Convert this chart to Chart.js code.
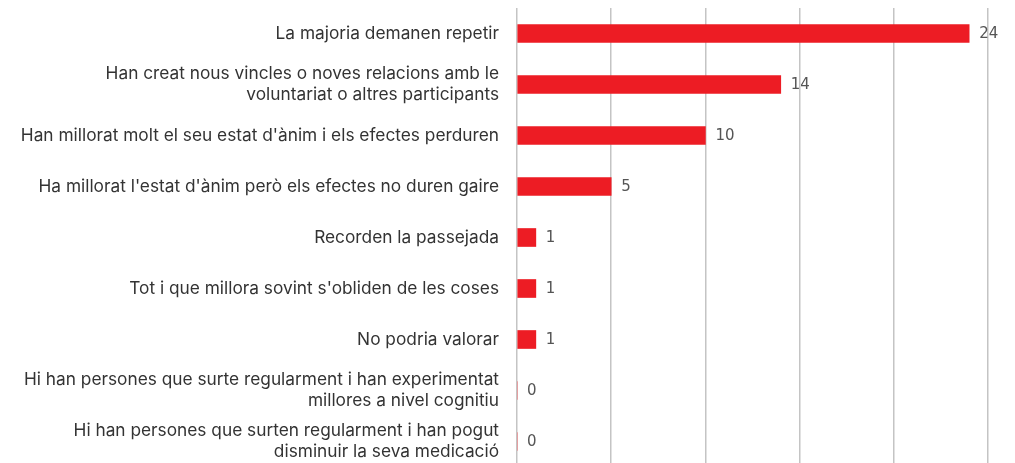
<!DOCTYPE html>
<html>
<head>
<meta charset="utf-8">
<script src="https://cdn.jsdelivr.net/npm/chart.js@4/dist/chart.umd.min.js"></script>
<style>
html,body{margin:0;padding:0;background:#fff;overflow:hidden;}
#wrap{position:relative;width:1015px;height:472px;}
</style>
</head>
<body>
<div id="wrap"><canvas id="c"></canvas></div>
<script>
const categories = [
  "La majoria demanen repetir",
  ["Han creat nous vincles o noves relacions amb le", "voluntariat o altres participants"],
  "Han millorat molt el seu estat d'ànim i els efectes perduren",
  "Ha millorat l'estat d'ànim però els efectes no duren gaire",
  "Recorden la passejada",
  "Tot i que millora sovint s'obliden de les coses",
  "No podria valorar",
  ["Hi han persones que surte regularment i han experimentat", "millores a nivel cognitiu"],
  ["Hi han persones que surten regularment i han pogut", "disminuir la seva medicació"]
];
const values = [24, 14, 10, 5, 1, 1, 1, 0, 0];
const xTicks = { min: 0, max: 25, step: 5 };

const valueLabels = {
  id: 'valueLabels',
  afterDatasetsDraw(chart) {
    const ctx = chart.ctx;
    const meta = chart.getDatasetMeta(0);
    ctx.save();
    ctx.font = '15px "DejaVu Sans"';
    ctx.fillStyle = '#555';
    ctx.textBaseline = 'middle';
    ctx.textAlign = 'left';
    meta.data.forEach((bar, i) => {
      ctx.fillText(String(values[i]), bar.x + 10, bar.y + 1);
    });
    ctx.restore();
  }
};

new Chart(document.getElementById('c'), {
  type: 'bar',
  data: {
    labels: categories,
    datasets: [{
      data: values,
      backgroundColor: '#ED1C24',
      barThickness: 18
    }]
  },
  options: {
    indexAxis: 'y',
    responsive: true,
    maintainAspectRatio: false,
    animation: false,
    layout: { padding: { top: 8, right: 27, bottom: 5, left: 0 } },
    plugins: { legend: { display: false }, tooltip: { enabled: false } },
    scales: {
      x: {
        min: xTicks.min, max: xTicks.max,
        ticks: { display: false, stepSize: xTicks.step },
        grid: { color: '#c4c4c4', lineWidth: 1.5, drawTicks: false },
        border: { display: false },
        afterFit(scale) { scale.height = 0; scale.paddingLeft = 0; scale.paddingRight = 0; }
      },
      y: {
        grid: { display: false, drawTicks: false },
        border: { display: false },
        ticks: {
          color: '#333',
          font: { family: 'Inter', size: 17.3, lineHeight: 1.2 },
          padding: 18,
          autoSkip: false
        },
        afterFit(scale) { scale.width = 517; scale.paddingTop = 0; scale.paddingBottom = 0; }
      }
    }
  },
  plugins: [valueLabels]
});
</script>
</body>
</html>
